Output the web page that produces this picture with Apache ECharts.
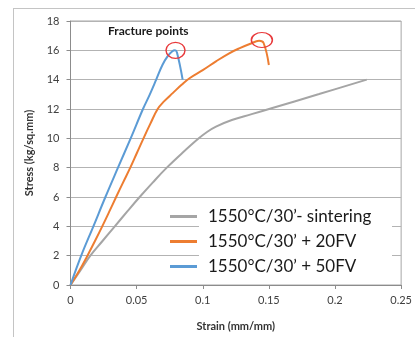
<!DOCTYPE html>
<html>
<head>
<meta charset="utf-8">
<script src="https://cdn.jsdelivr.net/npm/echarts@6/dist/echarts.min.js"></script>
<style>
html,body{margin:0;padding:0;background:#fff;}
#chart{width:415px;height:337px;}
</style>
</head>
<body>
<div id="chart"></div>
<script>
// Data
var seriesNames = ["1550°C/30’- sintering", "1550°C/30’ + 20FV", "1550°C/30’ + 50FV"];

var sinteringStrain = [0, 0.0075, 0.015, 0.0242, 0.0335, 0.0428, 0.0523, 0.0623, 0.0728, 0.0845, 0.097, 0.1035, 0.110, 0.122, 0.137, 0.152, 0.188, 0.224];
var sinteringStress = [0, 1.0, 2.0, 3.0, 4.0, 5.0, 6.0, 7.0, 8.0, 9.0, 10.0, 10.45, 10.8, 11.25, 11.65, 12.05, 13.02, 14.0];

var fv20Strain = [0, 0.0068, 0.0128, 0.0185, 0.024, 0.0293, 0.0345, 0.0398, 0.0452, 0.0502, 0.0552, 0.0604, 0.0659, 0.0705, 0.0775, 0.084, 0.090, 0.100, 0.110, 0.120, 0.128, 0.136, 0.1426, 0.146, 0.150];
var fv20Stress = [0, 1.0, 2.0, 3.0, 4.0, 5.0, 6.0, 7.0, 8.0, 9.0, 10.0, 11.0, 12.0, 12.5, 13.1, 13.65, 14.1, 14.65, 15.25, 15.8, 16.15, 16.45, 16.65, 16.5, 15.0];

var fv50Strain = [0, 0.0081, 0.0173, 0.0264, 0.0359, 0.0455, 0.0548, 0.060, 0.0648, 0.0695, 0.0735, 0.0768, 0.0790, 0.0805, 0.0848];
var fv50Stress = [0, 2.0, 4.0, 6.0, 8.0, 10.0, 12.0, 13.0, 14.0, 15.0, 15.6, 15.92, 16.0, 15.85, 14.0];

var fracturePoints20 = [[0.1447, 16.7]];
var fracturePoints50 = [[0.0794, 16.0]];

var xTicks = [0, 0.05, 0.1, 0.15, 0.2, 0.25];
var yTicks = [0, 2, 4, 6, 8, 10, 12, 14, 16, 18];

function pairs(xs, ys) { return xs.map(function (x, i) { return [x, ys[i]]; }); }

var FONT = 'Lato';
var chart = echarts.init(document.getElementById('chart'), null, {renderer: 'canvas'});

function circleMark(points, size) {
  return {
    symbol: 'circle',
    symbolSize: size,
    silent: true,
    label: {show: false},
    itemStyle: {color: 'rgba(0,0,0,0)', borderColor: '#e8393b', borderWidth: 1.3},
    data: points.map(function (p) { return {coord: p}; })
  };
}

var option = {
  animation: false,
  backgroundColor: '#fff',
  textStyle: {fontFamily: FONT},
  grid: {left: 70.5, right: 11.5, top: 21, bottom: 52, show: true, borderColor: '#a6a6a6', borderWidth: 1, backgroundColor: 'transparent'},
  xAxis: {
    type: 'value', min: xTicks[0], max: xTicks[xTicks.length - 1], interval: 0.05,
    name: 'Strain (mm/mm)', nameLocation: 'middle', nameGap: 36,
    nameTextStyle: {fontFamily: FONT, fontWeight: 'bold', fontSize: 11, color: '#333'},
    axisLine: {show: true, lineStyle: {color: '#8c8c8c'}},
    axisTick: {show: true, length: 4, lineStyle: {color: '#8c8c8c'}},
    axisLabel: {fontFamily: FONT, fontSize: 11, color: '#404040', margin: 10,
      formatter: function (v) { return String(+v.toFixed(2)); }},
    splitLine: {show: false}
  },
  yAxis: {
    type: 'value', min: yTicks[0], max: yTicks[yTicks.length - 1], interval: 2,
    name: 'Stress (kg/sq.mm)', nameLocation: 'middle', nameGap: 36,
    nameTextStyle: {fontFamily: FONT, fontWeight: 'bold', fontSize: 11, color: '#333'},
    axisLine: {show: true, lineStyle: {color: '#8c8c8c'}},
    axisTick: {show: true, length: 4, lineStyle: {color: '#8c8c8c'}},
    axisLabel: {fontFamily: FONT, fontSize: 11, color: '#404040', margin: 11},
    splitLine: {show: true, lineStyle: {color: '#b3b3b3', width: 1}}
  },
  legend: {
    orient: 'vertical', left: 170, top: 204, padding: 0, itemGap: 0,
    itemWidth: 27, itemHeight: 3, icon: 'rect',
    textStyle: {fontFamily: FONT, fontSize: 17, color: '#1a1a1a', lineHeight: 23, padding: [2, 0, 0, 6]},
    data: seriesNames
  },
  graphic: [
    {type: 'rect', z: 3, silent: true, shape: {x: 199, y: 204, width: 193, height: 68}, style: {fill: '#fff'}},
    {type: 'line', z: 10, silent: true, shape: {x1: 13.5, y1: 8, x2: 13.5, y2: 337}, style: {stroke: '#c4c4c4', lineWidth: 1}},
    {type: 'line', z: 10, silent: true, shape: {x1: 13, y1: 8.5, x2: 415, y2: 8.5}, style: {stroke: '#c4c4c4', lineWidth: 1}},
    {type: 'text', z: 10, silent: true, left: 108, top: 25,
      style: {text: 'Fracture points', font: 'bold 12px ' + FONT, fill: '#1a1a1a'}}
  ],
  series: [
    {name: seriesNames[0], type: 'line', data: pairs(sinteringStrain, sinteringStress), smooth: 0.4,
      showSymbol: false, symbol: 'none', lineStyle: {color: '#a5a5a5', width: 2}, itemStyle: {color: '#a5a5a5'}, z: 2},
    {name: seriesNames[1], type: 'line', data: pairs(fv20Strain, fv20Stress), smooth: 0.4,
      showSymbol: false, symbol: 'none', lineStyle: {color: '#ed7d31', width: 2}, itemStyle: {color: '#ed7d31'}, z: 2,
      markPoint: circleMark(fracturePoints20, [21, 15])},
    {name: seriesNames[2], type: 'line', data: pairs(fv50Strain, fv50Stress), smooth: 0.4,
      showSymbol: false, symbol: 'none', lineStyle: {color: '#5b9bd5', width: 2}, itemStyle: {color: '#5b9bd5'}, z: 2,
      markPoint: circleMark(fracturePoints50, [19, 16])}
  ]
};
chart.setOption(option);
</script>
</body>
</html>
